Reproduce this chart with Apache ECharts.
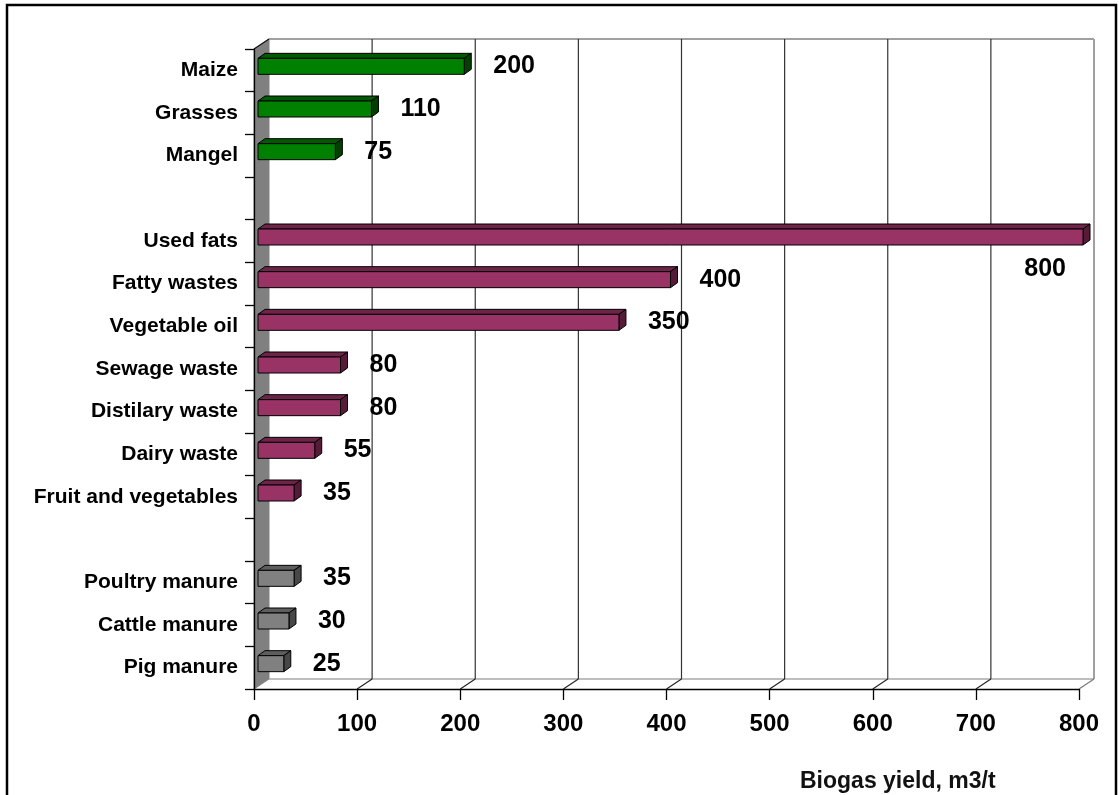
<!DOCTYPE html>
<html>
<head>
<meta charset="utf-8">
<script src="https://cdn.jsdelivr.net/npm/echarts@6/dist/echarts.min.js"></script>
<style>
html,body{margin:0;padding:0;background:#fff;}
#chart{width:1119px;height:795px;}
</style>
</head>
<body>
<div id="chart"></div>
<script>
// ---- data ----
const cropNames = ['Maize', 'Grasses', 'Mangel'];
const cropValues = [200, 110, 75];
const wasteNames = ['Used fats', 'Fatty wastes', 'Vegetable oil', 'Sewage waste', 'Distilary waste', 'Dairy waste', 'Fruit and vegetables'];
const wasteValues = [800, 400, 350, 80, 80, 55, 35];
const manureNames = ['Poultry manure', 'Cattle manure', 'Pig manure'];
const manureValues = [35, 30, 25];
const xTicks = [0, 100, 200, 300, 400, 500, 600, 700, 800];
const axisTitle = 'Biogas yield, m3/t';

// category list with blank separator slots
const categories = [...cropNames, '', ...wasteNames, ' ', ...manureNames];

const FONT = '"Liberation Sans", Arial, sans-serif';
const DX = 15, DY = -10;          // wall depth offset
const BX = 4, BY = -4;            // bar front offset
const BDX = 7, BDY = -5;          // bar depth
const BH = 16;                    // bar height

function toData(names, values) {
  return names.map((n, i) => [values[i], categories.indexOf(n)]);
}

function backdrop(params, api) {
  const v = api.value(0);
  const cs = params.coordSys;
  const x = api.coord([v, 0])[0];
  const top = cs.y, bot = cs.y + cs.height, left = cs.x, right = cs.x + cs.width;
  const ch = [];
  if (v === xTicks[0]) {
    ch.push({type: 'polygon', shape: {points: [[left, top], [left + DX, top + DY], [left + DX, bot + DY], [left, bot]]},
      style: {fill: '#808080', stroke: '#808080', lineWidth: 1}});
    ch.push({type: 'line', shape: {x1: left + DX, y1: top + DY, x2: right + DX, y2: top + DY},
      style: {stroke: '#a0a0a0', lineWidth: 2}});
    ch.push({type: 'line', shape: {x1: left + DX, y1: bot + DY, x2: right + DX, y2: bot + DY},
      style: {stroke: '#a8a8a8', lineWidth: 1.5}});
    ch.push({type: 'line', shape: {x1: left, y1: top, x2: left + DX, y2: top + DY},
      style: {stroke: '#111', lineWidth: 1.2}});
  } else if (v === xTicks[xTicks.length - 1]) {
    ch.push({type: 'line', shape: {x1: x + DX, y1: top + DY, x2: x + DX, y2: bot + DY},
      style: {stroke: '#a0a0a0', lineWidth: 2}});
    ch.push({type: 'line', shape: {x1: x, y1: bot, x2: x + DX, y2: bot + DY},
      style: {stroke: '#777', lineWidth: 1.2}});
  } else {
    ch.push({type: 'line', shape: {x1: x + DX, y1: top + DY, x2: x + DX, y2: bot + DY},
      style: {stroke: '#333', lineWidth: 1.2}});
    ch.push({type: 'line', shape: {x1: x, y1: bot, x2: x + DX, y2: bot + DY},
      style: {stroke: '#222', lineWidth: 1.2}});
  }
  return {type: 'group', children: ch};
}

function makeBar(front, dark, side) {
  return function (params, api) {
    const v = api.value(0), ci = api.value(1);
    const cs = params.coordSys;
    const s = api.coord([0, ci]), e = api.coord([v, ci]);
    const x0 = s[0] + BX, x1 = e[0] + BX;
    const y0 = s[1] + BY - BH / 2, y1 = y0 + BH;
    const txt = String(v);
    const tw = txt.length * 0.556 * 25;
    let lx = x1 + BDX + 22, ly = s[1] + BY, align = 'left';
    if (lx + tw > cs.x + cs.width) {
      lx = x1 - 17; ly = y1 + 24; align = 'right';
    }
    return {type: 'group', children: [
      {type: 'polygon', shape: {points: [[x0, y0], [x0 + BDX, y0 + BDY], [x1 + BDX, y0 + BDY], [x1, y0]]},
        style: {fill: dark, stroke: '#000', lineWidth: 1}},
      {type: 'polygon', shape: {points: [[x1, y0], [x1 + BDX, y0 + BDY], [x1 + BDX, y1 + BDY], [x1, y1]]},
        style: {fill: side, stroke: '#000', lineWidth: 1}},
      {type: 'rect', shape: {x: x0, y: y0, width: x1 - x0, height: BH},
        style: {fill: front, stroke: '#000', lineWidth: 1}},
      {type: 'text', style: {text: txt, x: lx, y: ly, align: align, verticalAlign: 'middle',
        fill: '#000', font: 'bold 25px ' + FONT}}
    ]};
  };
}

const chart = echarts.init(document.getElementById('chart'), null, {renderer: 'canvas'});
chart.setOption({
  animation: false,
  backgroundColor: '#fff',
  title: {text: axisTitle, left: 795, top: 765,
    textStyle: {fontFamily: FONT, fontWeight: 'bold', fontSize: 23, color: '#111'}},
  graphic: [{type: 'rect', shape: {x: 7, y: 5, width: 1109, height: 800},
    style: {fill: 'none', stroke: '#000', lineWidth: 2.5}, z: 100}],
  grid: {left: 254, top: 49, width: 825, height: 640},
  xAxis: {type: 'value', min: xTicks[0], max: xTicks[xTicks.length - 1], interval: 100,
    axisLine: {show: true, lineStyle: {color: '#000', width: 1.3}},
    axisTick: {show: true, length: 11, lineStyle: {color: '#000', width: 1.3}},
    splitLine: {show: false},
    axisLabel: {margin: 23, color: '#000', fontFamily: FONT, fontWeight: 'bold', fontSize: 24}},
  yAxis: {type: 'category', data: categories, inverse: true,
    axisLine: {show: true, lineStyle: {color: '#000', width: 1.3}},
    axisTick: {show: true, length: 9, lineStyle: {color: '#000', width: 1.3}},
    splitLine: {show: false},
    axisLabel: {margin: 16, color: '#000', fontFamily: FONT, fontWeight: 'bold', fontSize: 21, interval: 0}},
  series: [
    {type: 'custom', name: 'backdrop', z: -1, silent: true, renderItem: backdrop,
      data: xTicks.map(v => [v, 0])},
    {type: 'custom', name: 'Energy crops', z: 3, renderItem: makeBar('#008000', '#005a00', '#004000'),
      data: toData(cropNames, cropValues)},
    {type: 'custom', name: 'Wastes', z: 3, renderItem: makeBar('#993366', '#6e2449', '#561b39'),
      data: toData(wasteNames, wasteValues)},
    {type: 'custom', name: 'Manure', z: 3, renderItem: makeBar('#808080', '#5e5e5e', '#474747'),
      data: toData(manureNames, manureValues)}
  ]
});
</script>
</body>
</html>
